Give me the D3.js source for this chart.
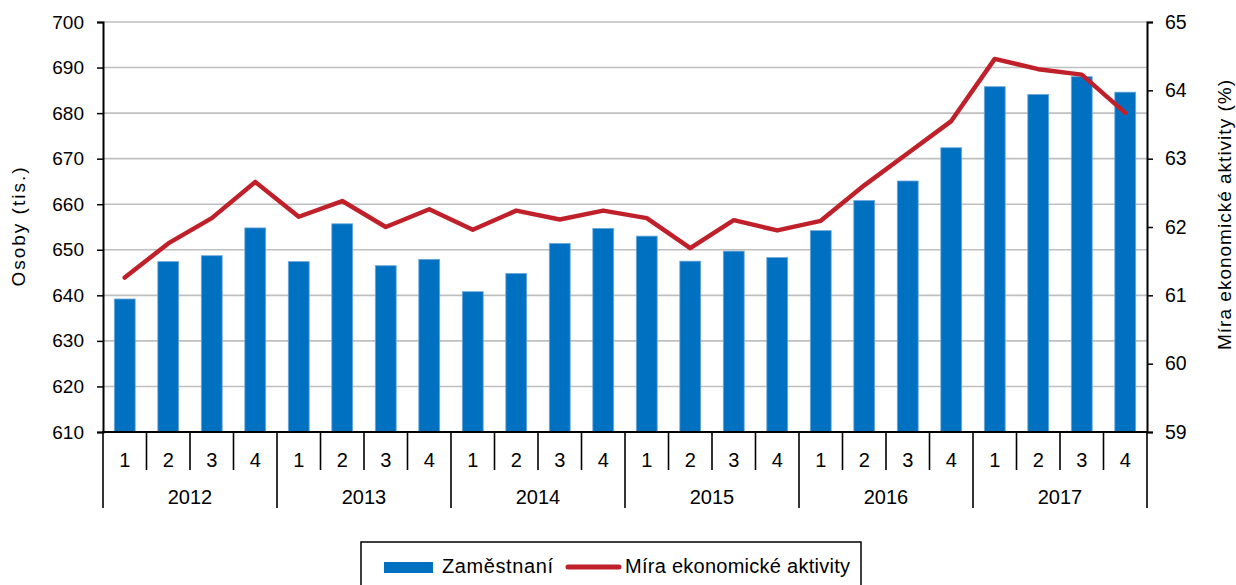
<!DOCTYPE html>
<html><head><meta charset="utf-8">
<script src="https://cdn.jsdelivr.net/npm/d3@7"></script>
<style>
html,body{margin:0;padding:0;background:#fff;}
svg{display:block;font-family:"Liberation Sans",Arial,sans-serif;}
</style></head>
<body>
<svg id="chart" width="1236" height="585"></svg>
<script>
const years = ["2012","2013","2014","2015","2016","2017"];
const quarters = ["1","2","3","4"];
const employed = [639.2,647.4,648.7,654.8, 647.4,655.7,646.5,647.9, 640.8,644.8,651.4,654.7,
                  653.0,647.5,649.7,648.3, 654.2,660.8,665.1,672.4, 685.8,684.1,688.0,684.6];
const activity = [61.26,61.76,62.13,62.66, 62.15,62.38,62.00,62.26, 61.96,62.24,62.11,62.24,
                  62.13,61.69,62.10,61.95, 62.09,62.61,63.08,63.55, 64.46,64.31,64.23,63.67];
const leftTicks = [610,620,630,640,650,660,670,680,690,700];
const rightTicks = [59,60,61,62,63,64,65];
const seriesNames = ["Zaměstnaní","Míra ekonomické aktivity"];
const leftTitle = "Osoby (tis.)";
const rightTitle = "Míra ekonomické aktivity (%)";

const BLUE = "#0070C0", RED = "#C0202A", GRID = "#BFBFBF";
const L = 103, R = 1147, T = 22, B = 432;

const cats = [];
years.forEach(y => quarters.forEach(q => cats.push(y + "-" + q)));

const svg = d3.select("#chart");
const x = d3.scaleBand().domain(cats).range([L, R]).padding(0);
const yL = d3.scaleLinear().domain([610, 700]).range([B, T]);
const yR = d3.scaleLinear().domain([59, 65]).range([B, T]);

// gridlines
svg.append("g").selectAll("line").data(leftTicks.filter(d => d !== 610)).join("line")
  .attr("x1", L).attr("x2", R).attr("y1", d => yL(d)).attr("y2", d => yL(d))
  .attr("stroke", GRID).attr("stroke-width", 1.6);

// bars
const bw = x.bandwidth() * 0.48;
svg.append("g").selectAll("rect").data(employed).join("rect")
  .attr("x", (d, i) => x(cats[i]) + x.bandwidth() / 2 - bw / 2)
  .attr("width", bw)
  .attr("y", d => yL(d))
  .attr("height", d => yL(610) - yL(d))
  .attr("fill", BLUE).attr("stroke", "#6FA8DC").attr("stroke-width", 0.8);

// line
const line = d3.line().x((d, i) => x(cats[i]) + x.bandwidth() / 2).y(d => yR(d));
svg.append("path").datum(activity).attr("d", line)
  .attr("fill", "none").attr("stroke", RED).attr("stroke-width", 4.5)
  .attr("stroke-linejoin", "round").attr("stroke-linecap", "round");

// left axis
const gL = svg.append("g").attr("transform", `translate(${L},0)`)
  .call(d3.axisLeft(yL).tickValues(leftTicks).tickSize(6).tickPadding(13).tickFormat(d3.format("d")));
gL.select(".domain").attr("stroke", "#000").attr("stroke-width", 2);
gL.selectAll(".tick line").attr("stroke", "#000").attr("stroke-width", 1.5);
gL.selectAll(".tick text").attr("font-size", 19).attr("fill", "#000").attr("font-family", "Liberation Sans, Arial, sans-serif");

// right axis
const gR = svg.append("g").attr("transform", `translate(${R},0)`)
  .call(d3.axisRight(yR).tickValues(rightTicks).tickSize(6).tickPadding(12).tickFormat(d3.format("d")));
gR.select(".domain").attr("stroke", "#000").attr("stroke-width", 2);
gR.selectAll(".tick line").attr("stroke", "#000").attr("stroke-width", 1.5);
gR.selectAll(".tick text").attr("font-size", 19.5).attr("fill", "#000").attr("font-family", "Liberation Sans, Arial, sans-serif");

// bottom axis line
svg.append("line").attr("x1", L - 1).attr("x2", R + 1).attr("y1", B).attr("y2", B)
  .attr("stroke", "#000").attr("stroke-width", 2);

// category separators
const bounds = d3.range(cats.length + 1);
svg.append("g").selectAll("line").data(bounds).join("line")
  .attr("x1", i => i === cats.length ? R : x(cats[i]))
  .attr("x2", i => i === cats.length ? R : x(cats[i]))
  .attr("y1", B)
  .attr("y2", i => (i % 4 === 0) ? 508 : 470)
  .attr("stroke", "#000").attr("stroke-width", 1.6);

// quarter labels
svg.append("g").selectAll("text").data(cats).join("text")
  .attr("x", d => x(d) + x.bandwidth() / 2).attr("y", 467)
  .attr("text-anchor", "middle").attr("font-size", 20).attr("fill", "#000")
  .text(d => d.split("-")[1]);

// year labels
svg.append("g").selectAll("text").data(years).join("text")
  .attr("x", y => (x(y + "-1") + x(y + "-4") + x.bandwidth()) / 2).attr("y", 504)
  .attr("text-anchor", "middle").attr("font-size", 20).attr("fill", "#000")
  .text(d => d);

// axis titles
svg.append("text").attr("transform", "translate(25,227) rotate(-90)")
  .attr("text-anchor", "middle").attr("font-size", 19).attr("fill", "#000")
  .attr("textLength", 119).attr("lengthAdjust", "spacing")
  .text(leftTitle);
svg.append("text").attr("transform", "translate(1231,215) rotate(-90)")
  .attr("text-anchor", "middle").attr("font-size", 19).attr("fill", "#000")
  .attr("textLength", 270).attr("lengthAdjust", "spacing")
  .text(rightTitle);

// legend
const lg = svg.append("g");
lg.append("rect").attr("x", 361).attr("y", 542).attr("width", 500).attr("height", 60)
  .attr("fill", "#fff").attr("stroke", "#000").attr("stroke-width", 1.5);
lg.append("rect").attr("x", 384).attr("y", 562).attr("width", 49).attr("height", 11).attr("fill", BLUE);
lg.append("text").attr("x", 442).attr("y", 573).attr("font-size", 20).attr("fill", "#000")
  .attr("textLength", 111).attr("lengthAdjust", "spacing").text(seriesNames[0]);
lg.append("line").attr("x1", 568).attr("x2", 619).attr("y1", 567).attr("y2", 567)
  .attr("stroke", RED).attr("stroke-width", 5).attr("stroke-linecap", "round");
lg.append("text").attr("x", 625).attr("y", 573).attr("font-size", 20).attr("fill", "#000")
  .attr("textLength", 225).attr("lengthAdjust", "spacing").text(seriesNames[1]);
</script>
</body></html>
